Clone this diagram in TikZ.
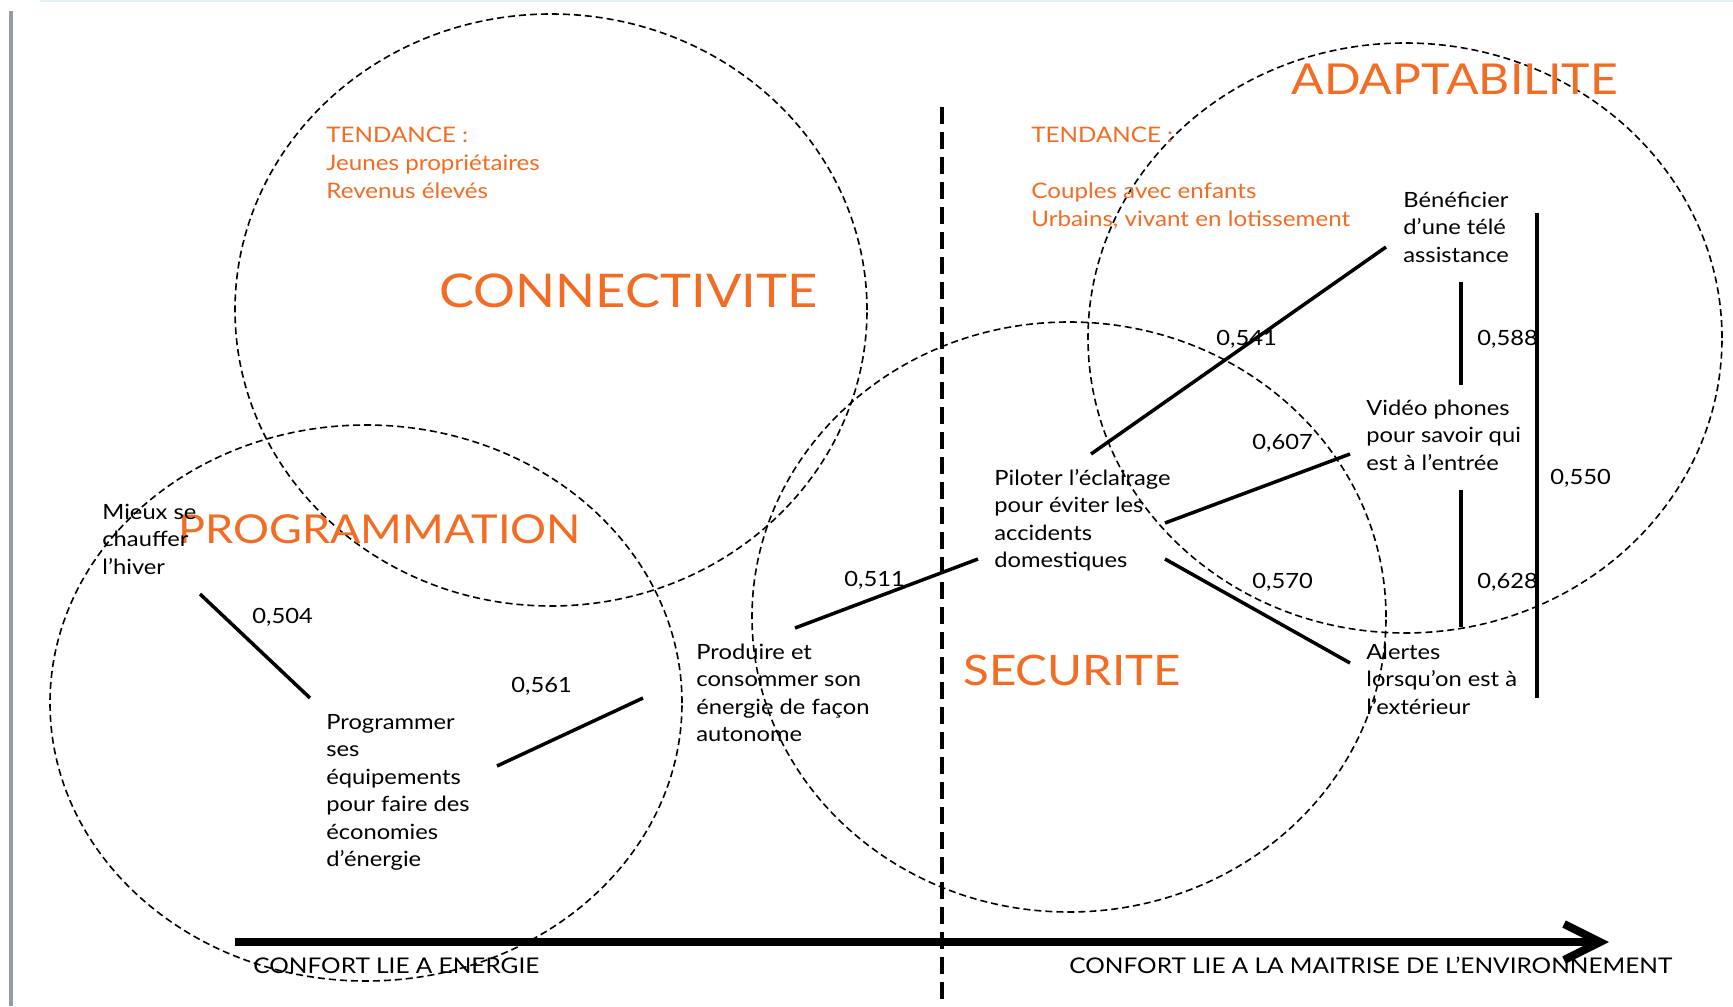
\documentclass[tikz,border=0pt]{standalone}
\usepackage{fontspec}
\setmainfont{Lato}[FakeStretch=1.13]
\usetikzlibrary{arrows.meta}
\definecolor{orng}{RGB}{242,108,36}
\definecolor{barg}{RGB}{150,156,165}
\definecolor{topline}{RGB}{225,240,242}
\begin{document}
\begin{tikzpicture}[x=0.5pt,y=-0.5pt,
  zone/.style={draw=black, line width=0.8pt, dash pattern=on 3.5pt off 2pt},
  title/.style={text=orng, inner sep=0, anchor=base west},
  trend/.style={text=orng, font=\fontsize{10.7}{14}\selectfont, inner sep=0, anchor=north west, align=left},
  item/.style={font=\fontsize{10.5}{13.75}\selectfont, inner sep=0, anchor=north west, align=left},
  score/.style={font=\fontsize{10.5}{13.75}\selectfont, inner sep=0, anchor=base west},
  link/.style={line width=1.75pt},
  axislabel/.style={font=\fontsize{10.8}{13}\selectfont, inner sep=0, anchor=base west},
]
\useasboundingbox (0,0) rectangle (1733,1006);
\fill[white] (0,0) rectangle (1733,1006);
% frame details
\coordinate (tl1) at (40,1); \coordinate (tl2) at (1733,1);
\draw[topline, line width=1.5pt] (tl1) -- (tl2);
\coordinate (gb1) at (11,11); \coordinate (gb2) at (11,1006);
\draw[barg, line width=2pt] (gb1) -- (gb2);

% zones
\draw[zone] (551,310) ellipse [x radius=158pt, y radius=148pt];
\draw[zone] (366,703) ellipse [x radius=158pt, y radius=139pt];
\draw[zone] (1069,617) ellipse [x radius=158.5pt, y radius=147.5pt];
\draw[zone] (1405,338) ellipse [x radius=158.5pt, y radius=147.5pt];

% divider
\coordinate (divT) at (942,107); \coordinate (divB) at (942,1006);
\draw[line width=2pt, dash pattern=on 8.5pt off 4pt] (divT) -- (divB);

% titles
\node[title, font=\fontsize{23.2}{28}\selectfont] (connect) at (439,307.5) {CONNECTIVITE};
\node[title, font=\fontsize{21.3}{26}\selectfont] (adapt) at (1291,94.5) {ADAPTABILITE};
\node[title, font=\fontsize{19.9}{24}\selectfont] (prog) at (178,543) {PROGRAMMATION};
\node[title, font=\fontsize{21}{26}\selectfont] (secu) at (963,685) {SECURITE};

% trends (strut height = 0.7*28px = 19.6px)
\node[trend] (trendL) at (326,122.4) {\strut TENDANCE :\\Jeunes propriétaires\\Revenus élevés};
\node[trend] (trendR) at (1031,122.4) {\strut TENDANCE :\\\strut\\Couples avec enfants\\Urbains, vivant en lotissement};

% items (strut height = 0.7*27.5px = 19.25px)
\node[item] (mieux) at (102,499.75) {\strut Mieux se\\chauffer\\l’hiver};
\node[item] (progr) at (326,709.75) {\strut Programmer\\ses\\équipements\\pour faire des\\économies\\d’énergie};
\node[item] (prod) at (696,639.75) {\strut Produire et\\consommer son\\énergie de façon\\autonome};
\node[item] (pilot) at (994,465.75) {\strut Piloter l’éclairage\\pour éviter les\\accidents\\domestiques};
\node[item] (benef) at (1403,187.75) {\strut Bénéficier\\d’une télé\\assistance};
\node[item] (video) at (1366,395.75) {\strut Vidéo phones\\pour savoir qui\\est à l’entrée};
\node[item] (alert) at (1366,639.75) {\strut Alertes\\lorsqu’on est à\\l’extérieur};

% connectors
\coordinate (a1) at (200,594);  \coordinate (a2) at (310,698);
\coordinate (b1) at (497,766);  \coordinate (b2) at (643,698);
\coordinate (c1) at (795,628);  \coordinate (c2) at (978,559);
\coordinate (d1) at (1091,454); \coordinate (d2) at (1386,247);
\coordinate (e1) at (1165,523); \coordinate (e2) at (1350,454);
\coordinate (f1) at (1165,559); \coordinate (f2) at (1350,663);
\coordinate (g1) at (1461,282); \coordinate (g2) at (1461,385);
\coordinate (h1) at (1461,490); \coordinate (h2) at (1461,627);
\coordinate (k1) at (1537,213); \coordinate (k2) at (1537,698);
\draw[link] (a1) -- (a2);
\draw[link] (b1) -- (b2);
\draw[link] (c1) -- (c2);
\draw[link] (d1) -- (d2);
\draw[link] (e1) -- (e2);
\draw[link] (f1) -- (f2);
\draw[link] (g1) -- (g2);
\draw[link] (h1) -- (h2);
\draw[line width=2.4pt] (k1) -- (k2);

% scores
\node[score] (s504) at (252,623) {0,504};
\node[score] (s561) at (511,692) {0,561};
\node[score] (s511) at (844,586) {0,511};
\node[score] (s541) at (1216,345) {0,541};
\node[score] (s607) at (1252,449) {0,607};
\node[score] (s588) at (1477,345) {0,588};
\node[score] (s570) at (1252,588) {0,570};
\node[score] (s628) at (1477,588) {0,628};
\node[score] (s550) at (1550,484) {0,550};

% axis
\coordinate (axL) at (235,942); \coordinate (axR) at (1609,942);
\draw[line width=4pt, -{Straight Barb[length=18pt,width=18pt]}] (axL) -- (axR);
\node[axislabel] (axlab1) at (253,973) {CONFORT LIE A ENERGIE};
\node[axislabel] (axlab2) at (1069,973) {CONFORT LIE A LA MAITRISE DE L’ENVIRONNEMENT};
\end{tikzpicture}
\end{document}
